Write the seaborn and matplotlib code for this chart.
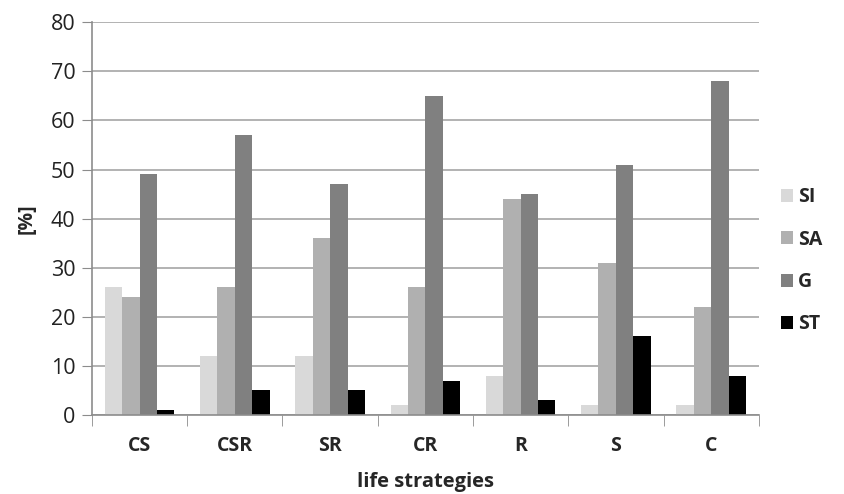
import matplotlib
matplotlib.use("Agg")
import matplotlib.pyplot as plt
import pandas as pd
import seaborn as sns

# Data
strategies = ["CS", "CSR", "SR", "CR", "R", "S", "C"]
groups = ["SI", "SA", "G", "ST"]
si_values = [26, 12, 12, 2, 8, 2, 2]
sa_values = [24, 26, 36, 26, 44, 31, 22]
g_values = [49, 57, 47, 65, 45, 51, 68]
st_values = [1, 5, 5, 7, 3, 16, 8]

_GROUP_COLORS = ["#d9d9d9", "#b0b0b0", "#808080", "#000000"]

df = pd.DataFrame({
    "strategy": strategies * 4,
    "group": [g for g in groups for _ in strategies],
    "value": si_values + sa_values + g_values + st_values,
})

sns.set_style("white")
plt.rcParams["font.family"] = ["Open Sans", "DejaVu Sans"]

fig = plt.figure(figsize=(8.44, 4.94), dpi=100)
ax = fig.add_axes([0.109, 0.16, 0.79, 0.795])

sns.barplot(data=df, x="strategy", y="value", hue="group", order=strategies,
            hue_order=groups, palette=_GROUP_COLORS, width=0.73, gap=0,
            saturation=1, linewidth=0, ax=ax, legend=True)

ax.set_ylim(0, 80)
ax.set_xlim(-0.5, len(strategies) - 0.5)
ax.set_yticks(range(0, 81, 10))
ax.yaxis.grid(True, color="#a6a6a6", linewidth=1.2)
ax.set_axisbelow(True)

for side in ["top", "right"]:
    ax.spines[side].set_visible(False)
for side in ["left", "bottom"]:
    ax.spines[side].set_color("#8c8c8c")
    ax.spines[side].set_linewidth(1.2)

ax.tick_params(axis="y", left=True, length=7, color="#8c8c8c", labelsize=15.5,
               pad=5, labelcolor="#222222")
ax.set_xticks([i - 0.5 for i in range(len(strategies) + 1)], minor=True)
ax.tick_params(axis="x", which="minor", bottom=True, length=8, color="#8c8c8c")
ax.tick_params(axis="x", which="major", bottom=False, labelsize=14, pad=12)
for lbl in ax.get_xticklabels():
    lbl.set_fontweight("bold")

ax.set_ylabel("[%]", fontsize=14, fontweight="bold", labelpad=10)
ax.set_xlabel("life strategies", fontsize=14.5, fontweight="bold", labelpad=11)

handles, labels = ax.get_legend_handles_labels()
ax.legend_.remove()
fig.legend(handles, labels, loc="center left", bbox_to_anchor=(0.925, 0.472),
           frameon=False, handlelength=0.65, handleheight=0.65, handletextpad=0.25,
           labelspacing=1.15, borderaxespad=0, borderpad=0,
           prop={"weight": "bold", "size": 14})

fig.savefig("out.png", dpi=100)
plt.close(fig)
